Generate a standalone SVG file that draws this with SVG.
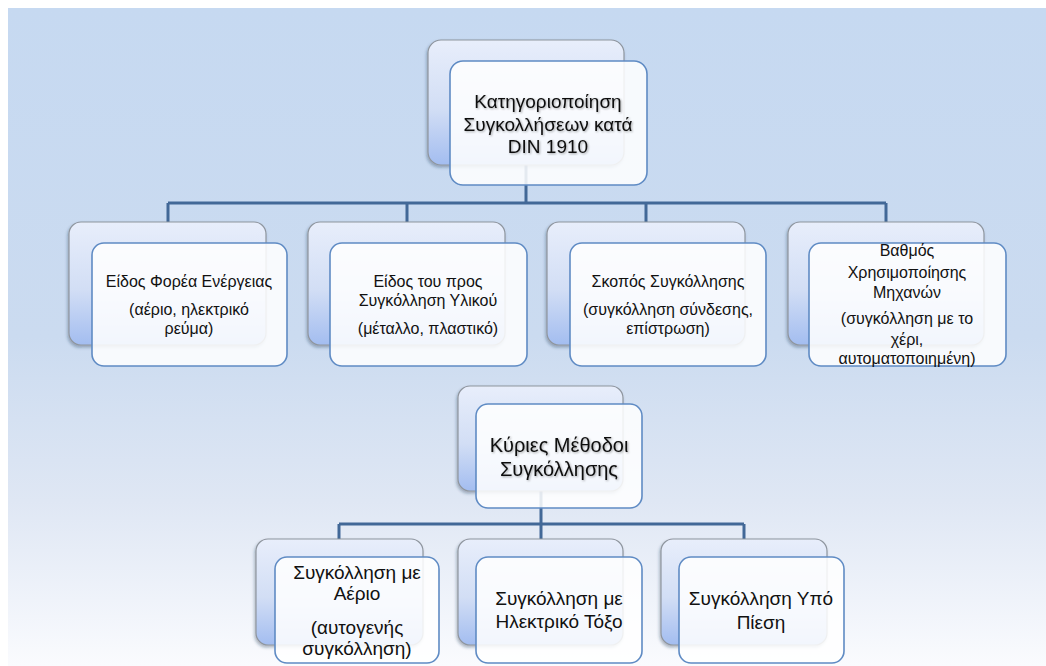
<svg xmlns="http://www.w3.org/2000/svg" width="1046" height="666" viewBox="0 0 1046 666">
<defs>
<linearGradient id="bg" x1="0" y1="0" x2="0" y2="1">
<stop offset="0" stop-color="#c6d9f1"/>
<stop offset="0.5" stop-color="#cbdbf0"/>
<stop offset="0.75" stop-color="#dfe7f4"/>
<stop offset="1" stop-color="#fafbfe"/>
</linearGradient>
<linearGradient id="back" x1="0" y1="0" x2="0" y2="1">
<stop offset="0" stop-color="#e8eefb"/>
<stop offset="0.55" stop-color="#d2def5"/>
<stop offset="1" stop-color="#a3bdf0"/>
</linearGradient>
<filter id="sh" x="-10%" y="-10%" width="125%" height="125%">
<feDropShadow dx="-1" dy="2" stdDeviation="1.5" flood-color="#1f3050" flood-opacity="0.35"/>
</filter>
<filter id="tsh" x="-10%" y="-20%" width="120%" height="150%">
<feDropShadow dx="1" dy="1" stdDeviation="0.8" flood-color="#000000" flood-opacity="0.35"/>
</filter>
</defs>
<style>
.bk{fill:url(#bg)}
.back{fill:url(#back);stroke:#8e959e;stroke-width:1.2;filter:url(#sh)}
.front{fill:#ffffff;fill-opacity:0.86;stroke:#5f8bc4;stroke-width:1.6}
.conn{fill:none;stroke:#426897;stroke-width:3}
text{font-family:"Liberation Sans","Noto Sans",Arial,sans-serif;fill:#111111;text-anchor:middle}
.big{font-size:19px;filter:url(#tsh)}
.big2{font-size:20px;filter:url(#tsh)}
.mid{font-size:19px}
.sm{font-size:16px}
</style>
<rect x="0" y="0" width="1046" height="666" fill="#ffffff"/>
<rect class="bk" x="8" y="8" width="1038" height="658"/>

<g id="connectors">
<path class="conn" d="M526,165 V203 M168,203 H886 M168,203 V222 M407,203 V222 M646,203 V222 M886,203 V222"/>
<path class="conn" d="M541,491 V524 M339,524 H744 M339,524 V539 M541,524 V539 M744,524 V539"/>
</g>

<g id="n-root">
<rect class="back" x="428" y="40" width="196" height="125" rx="13"/>
<rect class="front" x="450" y="61" width="197" height="124" rx="13"/>
<text class="big" x="548" y="108">Κατηγοριοποίηση</text>
<text class="big" x="548" y="131">Συγκολλήσεων κατά</text>
<text class="big" x="548" y="153">DIN 1910</text>
</g>

<g id="n-energy">
<rect class="back" x="69" y="222" width="197" height="123" rx="12"/>
<rect class="front" x="92" y="243" width="195" height="123" rx="12"/>
<text class="sm" x="189" y="287">Είδος Φορέα Ενέργειας</text>
<text class="sm" x="189" y="315">(αέριο, ηλεκτρικό</text>
<text class="sm" x="189" y="334">ρεύμα)</text>
</g>

<g id="n-material">
<rect class="back" x="308" y="222" width="197" height="123" rx="12"/>
<rect class="front" x="330" y="243" width="197" height="123" rx="12"/>
<text class="sm" x="428" y="287">Είδος του προς</text>
<text class="sm" x="428" y="306">Συγκόλληση Υλικού</text>
<text class="sm" x="428" y="334">(μέταλλο, πλαστικό)</text>
</g>

<g id="n-purpose">
<rect class="back" x="547" y="222" width="198" height="123" rx="12"/>
<rect class="front" x="570" y="243" width="196" height="123" rx="12"/>
<text class="sm" x="668" y="287">Σκοπός Συγκόλλησης</text>
<text class="sm" x="668" y="315">(συγκόλληση σύνδεσης,</text>
<text class="sm" x="668" y="334">επίστρωση)</text>
</g>

<g id="n-machine">
<rect class="back" x="788" y="222" width="196" height="123" rx="12"/>
<rect class="front" x="809" y="243" width="197" height="123" rx="12"/>
<text class="sm" x="907" y="256">Βαθμός</text>
<text class="sm" x="907" y="278">Χρησιμοποίησης</text>
<text class="sm" x="907" y="298">Μηχανών</text>
<text class="sm" x="907" y="324">(συγκόλληση με το</text>
<text class="sm" x="907" y="345">χέρι,</text>
<text class="sm" x="907" y="364">αυτοματοποιημένη)</text>
</g>

<g id="n-methods">
<rect class="back" x="458" y="386" width="165" height="105" rx="12"/>
<rect class="front" x="476" y="404" width="166" height="104" rx="12"/>
<text class="big2" x="559" y="452">Κύριες Μέθοδοι</text>
<text class="big2" x="559" y="476">Συγκόλλησης</text>
</g>

<g id="n-gas">
<rect class="back" x="256" y="539" width="167" height="106" rx="12"/>
<rect class="front" x="275" y="557" width="164" height="106" rx="12"/>
<text class="mid" x="357" y="579">Συγκόλληση με</text>
<text class="mid" x="357" y="600">Αέριο</text>
<text class="mid" x="357" y="634">(αυτογενής</text>
<text class="mid" x="357" y="655">συγκόλληση)</text>
</g>

<g id="n-arc">
<rect class="back" x="458" y="539" width="165" height="106" rx="12"/>
<rect class="front" x="476" y="557" width="166" height="106" rx="12"/>
<text class="mid" x="559" y="605">Συγκόλληση με</text>
<text class="mid" x="559" y="628">Ηλεκτρικό Τόξο</text>
</g>

<g id="n-pressure">
<rect class="back" x="661" y="539" width="166" height="106" rx="12"/>
<rect class="front" x="679" y="557" width="165" height="106" rx="12"/>
<text class="mid" x="761" y="605">Συγκόλληση Υπό</text>
<text class="mid" x="761" y="629">Πίεση</text>
</g>
</svg>
